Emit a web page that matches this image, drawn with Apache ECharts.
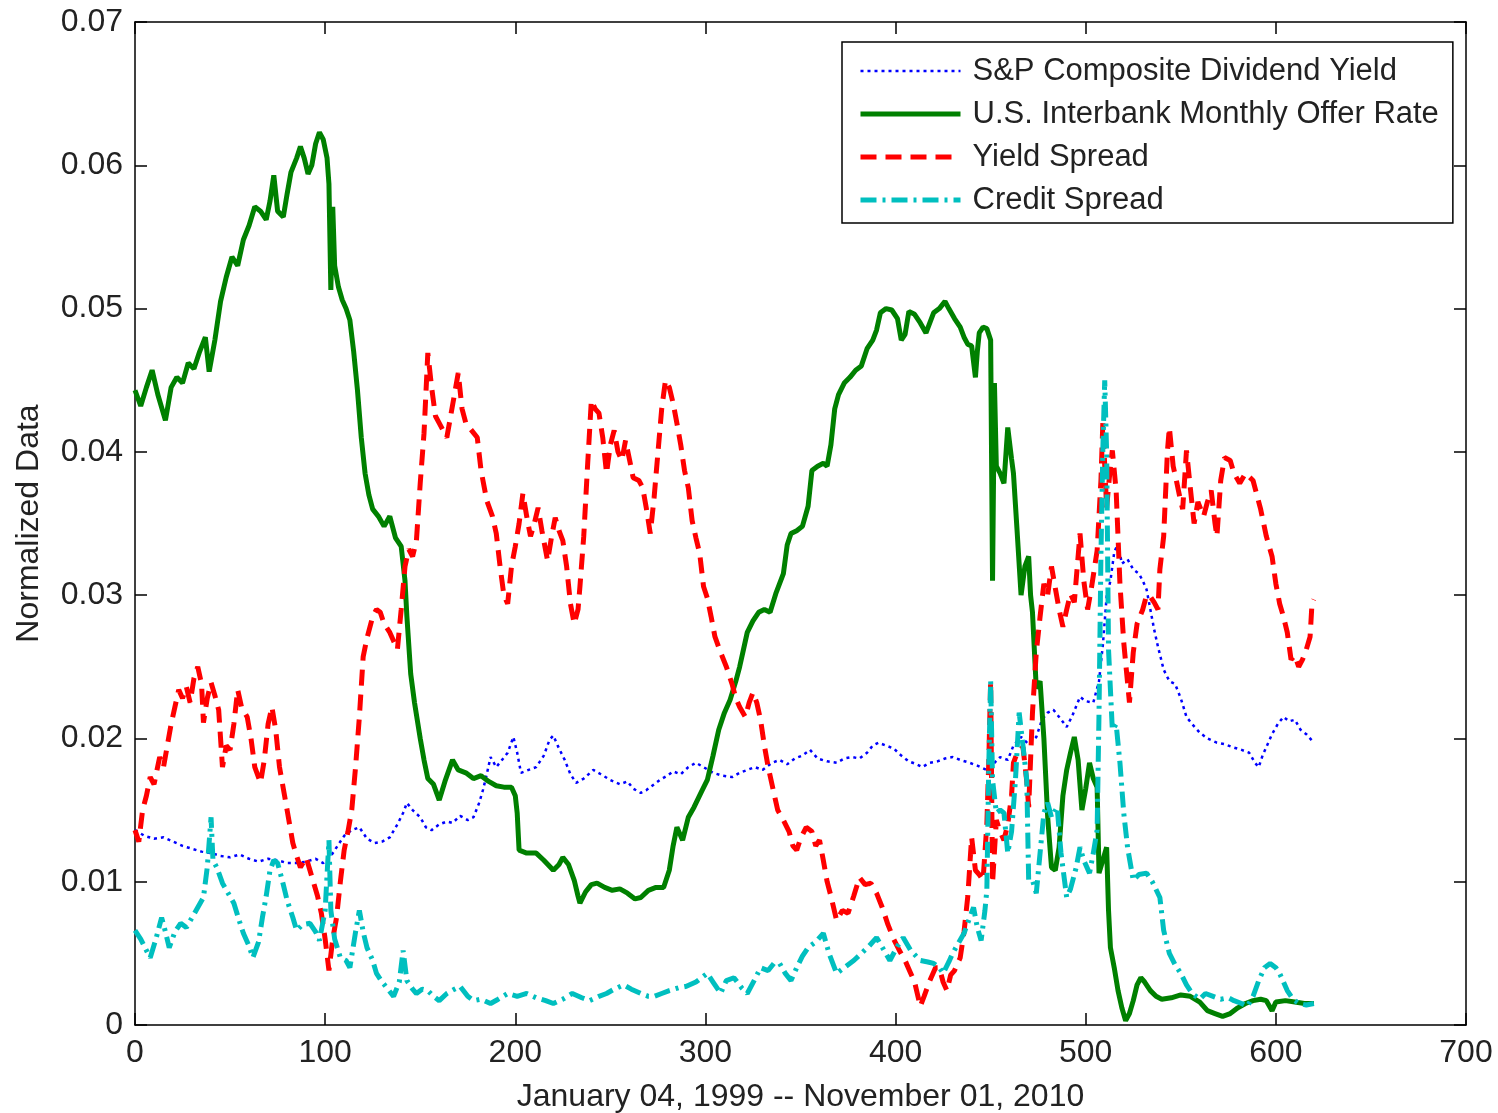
<!DOCTYPE html>
<html>
<head>
<meta charset="utf-8">
<script src="https://cdn.jsdelivr.net/npm/echarts@6/dist/echarts.min.js"></script>
<style>
html,body{margin:0;padding:0;background:#fff;}
#c{width:1498px;height:1113px;}
</style>
</head>
<body>
<div id="c"></div>
<script>
// ---- Data (x = observation index, y = normalized value) ----
const seriesNames = ['S&P Composite Dividend Yield','U.S. Interbank Monthly Offer Rate','Yield Spread','Credit Spread'];
const xTicks = [0,100,200,300,400,500,600,700];
const yTicks = [0,0.01,0.02,0.03,0.04,0.05,0.06,0.07];
const xTitle = 'January 04, 1999 -- November 01, 2010';
const yTitle = 'Normalized Data';

const dividendYield = [[0,0.0136],[5,0.0132],[10,0.0130],[15,0.0131],[20,0.0128],[25,0.0125],[30,0.0123],[35,0.0121],[40,0.0120],[45,0.0118],[50,0.0117],[55,0.0119],[60,0.0116],[65,0.0114],[70,0.0116],[75,0.0115],[80,0.0113],[85,0.0113],[90,0.0114],[95,0.0116],[99,0.0113],[103,0.0118],[106,0.0124],[110,0.0132],[114,0.0136],[118,0.0138],[122,0.0130],[126,0.0127],[130,0.0128],[134,0.0131],[138,0.0140],[141,0.0148],[143,0.0155],[146,0.0150],[150,0.0145],[153,0.0138],[156,0.0136],[160,0.0140],[164,0.0142],[167,0.0141],[171,0.0146],[175,0.0143],[178,0.0145],[181,0.0155],[183,0.0164],[185,0.0175],[187,0.0187],[190,0.0180],[193,0.0185],[196,0.0190],[199,0.0201],[201,0.0190],[203,0.0176],[207,0.0178],[211,0.0180],[215,0.0188],[218,0.0199],[220,0.0202],[223,0.0193],[226,0.0185],[229,0.0175],[232,0.0169],[236,0.0172],[241,0.0178],[245,0.0175],[250,0.0171],[255,0.0168],[259,0.0170],[262,0.0165],[266,0.0162],[269,0.0164],[273,0.0168],[276,0.0171],[280,0.0174],[283,0.0177],[287,0.0175],[291,0.0180],[295,0.0183],[299,0.0180],[304,0.0176],[309,0.0174],[314,0.0173],[318,0.0176],[322,0.0178],[326,0.0180],[330,0.0178],[335,0.0183],[339,0.0185],[343,0.0182],[347,0.0186],[351,0.0188],[355,0.0192],[359,0.0186],[364,0.0184],[369,0.0183],[373,0.0186],[377,0.0187],[381,0.0186],[385,0.0190],[388,0.0195],[391,0.0197],[395,0.0195],[399,0.0193],[403,0.0188],[407,0.0184],[411,0.0182],[414,0.0180],[418,0.0183],[422,0.0184],[426,0.0186],[430,0.0187],[434,0.0185],[439,0.0183],[443,0.0181],[448,0.0178],[452,0.0183],[455,0.0187],[459,0.0185],[462,0.0195],[466,0.0201],[470,0.0196],[474,0.0201],[477,0.0213],[480,0.0218],[483,0.0220],[486,0.0215],[490,0.0208],[493,0.0216],[497,0.0229],[500,0.0226],[504,0.0225],[507,0.0240],[509,0.0265],[511,0.0299],[513,0.0310],[515,0.0330],[517,0.0336],[519,0.0322],[522,0.0325],[525,0.0318],[528,0.0315],[530,0.0310],[532,0.0304],[534,0.0290],[536,0.0276],[538,0.0264],[541,0.0248],[544,0.0240],[547,0.0238],[550,0.0228],[553,0.0215],[556,0.0210],[560,0.0204],[564,0.0200],[569,0.0197],[573,0.0196],[577,0.0194],[582,0.0192],[586,0.0190],[589,0.0183],[591,0.0180],[593,0.0188],[595,0.0194],[598,0.0203],[601,0.0210],[604,0.0215],[607,0.0212],[610,0.0213],[613,0.0206],[616,0.0203],[620,0.0197]];

const interbankRate = [[0,0.0443],[3,0.0432],[6,0.0445],[9,0.0457],[12,0.0440],[16,0.0422],[19,0.0445],[22,0.0452],[25,0.0448],[28,0.0462],[31,0.0458],[34,0.0470],[37,0.0480],[39,0.0456],[42,0.0478],[45,0.0505],[48,0.0522],[51,0.0536],[54,0.0530],[57,0.0548],[60,0.0558],[63,0.0571],[66,0.0568],[69,0.0562],[71,0.0575],[73,0.0593],[75,0.0568],[78,0.0564],[80,0.0580],[82,0.0595],[85,0.0605],[87,0.0613],[89,0.0605],[91,0.0594],[93,0.0600],[95,0.0615],[97,0.0623],[99,0.0618],[101,0.0605],[102,0.0587],[103,0.0513],[104,0.0571],[105,0.0530],[107,0.0515],[109,0.0506],[111,0.0500],[113,0.0492],[115,0.0470],[117,0.0443],[119,0.0410],[121,0.0385],[123,0.0370],[125,0.0360],[128,0.0355],[131,0.0348],[134,0.0355],[137,0.0340],[140,0.0334],[142,0.0310],[143,0.0285],[145,0.0245],[147,0.0225],[150,0.0200],[152,0.0185],[154,0.0172],[157,0.0168],[160,0.0157],[163,0.0170],[167,0.0185],[170,0.0178],[174,0.0176],[178,0.0172],[182,0.0174],[186,0.0170],[190,0.0167],[194,0.0166],[198,0.0166],[200,0.0160],[201,0.0148],[202,0.0122],[206,0.0120],[211,0.0120],[215,0.0115],[220,0.0108],[223,0.0112],[225,0.0117],[228,0.0112],[231,0.0101],[233,0.0090],[234,0.0085],[237,0.0093],[240,0.0098],[243,0.0099],[247,0.0096],[251,0.0094],[255,0.0095],[259,0.0092],[263,0.0088],[266,0.0089],[270,0.0094],[274,0.0096],[278,0.0096],[281,0.0108],[283,0.0125],[285,0.0138],[288,0.0129],[291,0.0145],[294,0.0152],[298,0.0163],[301,0.0171],[304,0.0188],[307,0.0206],[310,0.0218],[313,0.0227],[316,0.0240],[318,0.0250],[320,0.0262],[322,0.0274],[325,0.0282],[328,0.0288],[331,0.0290],[334,0.0288],[337,0.0301],[341,0.0315],[343,0.0335],[345,0.0343],[348,0.0345],[351,0.0348],[354,0.0362],[356,0.0387],[359,0.0390],[362,0.0392],[364,0.0390],[366,0.0405],[368,0.0430],[370,0.0440],[373,0.0448],[376,0.0452],[379,0.0457],[382,0.0460],[385,0.0472],[388,0.0478],[390,0.0485],[392,0.0497],[395,0.0500],[398,0.0499],[401,0.0493],[403,0.0478],[405,0.0482],[407,0.0498],[410,0.0496],[413,0.0490],[416,0.0483],[418,0.0490],[420,0.0497],[423,0.0500],[426,0.0505],[428,0.0500],[431,0.0493],[434,0.0487],[436,0.0480],[438,0.0475],[440,0.0474],[442,0.0452],[443,0.0470],[444,0.0483],[446,0.0487],[448,0.0486],[450,0.0478],[451,0.0310],[452,0.0448],[453,0.0390],[455,0.0385],[457,0.0378],[459,0.0417],[461,0.0395],[462,0.0385],[464,0.0343],[466,0.0300],[468,0.0320],[470,0.0327],[471,0.0300],[472,0.0288],[474,0.0235],[476,0.0240],[478,0.0200],[480,0.0145],[482,0.0110],[484,0.0108],[486,0.0124],[488,0.0160],[490,0.0178],[492,0.0190],[494,0.0201],[496,0.0185],[498,0.0150],[500,0.0165],[502,0.0183],[504,0.0172],[506,0.0166],[507,0.0106],[509,0.0115],[511,0.0124],[512,0.0080],[513,0.0054],[515,0.0040],[517,0.0024],[519,0.0012],[521,0.0003],[523,0.0008],[525,0.0017],[527,0.0028],[529,0.0033],[531,0.0030],[534,0.0024],[537,0.0020],[540,0.0018],[545,0.0019],[550,0.0021],[555,0.0020],[560,0.0016],[564,0.0010],[568,0.0008],[572,0.0006],[576,0.0008],[580,0.0012],[584,0.0015],[588,0.0017],[592,0.0018],[595,0.0017],[598,0.0010],[600,0.0016],[605,0.0017],[610,0.0016],[615,0.0015],[620,0.0015]];

const yieldSpread = [[0,0.0136],[2,0.0128],[4,0.0150],[6,0.0160],[8,0.0173],[10,0.0168],[13,0.0187],[15,0.0180],[17,0.0195],[19,0.0210],[21,0.0222],[23,0.0234],[25,0.0228],[27,0.0236],[29,0.0225],[31,0.0242],[33,0.0250],[35,0.0238],[36,0.0211],[38,0.0228],[40,0.0239],[42,0.0230],[44,0.0220],[46,0.0180],[48,0.0195],[50,0.0192],[52,0.0210],[54,0.0234],[56,0.0222],[59,0.0215],[61,0.0200],[63,0.0180],[66,0.0169],[68,0.0185],[70,0.0210],[72,0.0222],[74,0.0206],[76,0.0180],[78,0.0165],[80,0.0150],[83,0.0127],[85,0.0118],[87,0.0110],[90,0.0117],[92,0.0108],[94,0.0099],[96,0.0090],[98,0.0078],[100,0.0060],[102,0.0038],[104,0.0060],[106,0.0075],[108,0.0100],[110,0.0122],[112,0.0135],[114,0.0150],[116,0.0180],[118,0.0215],[120,0.0257],[122,0.0270],[125,0.0285],[127,0.0290],[129,0.0288],[131,0.0280],[134,0.0274],[136,0.0268],[138,0.0262],[140,0.0290],[142,0.0320],[144,0.0332],[146,0.0327],[148,0.0338],[150,0.0378],[152,0.0413],[154,0.0469],[156,0.0445],[158,0.0425],[160,0.0420],[162,0.0415],[164,0.0410],[166,0.0425],[168,0.0440],[170,0.0455],[172,0.0430],[174,0.0420],[177,0.0415],[180,0.0410],[182,0.0387],[185,0.0366],[188,0.0355],[190,0.0343],[192,0.0320],[194,0.0300],[196,0.0294],[198,0.0320],[200,0.0334],[202,0.0350],[204,0.0371],[206,0.0355],[208,0.0341],[210,0.0350],[212,0.0361],[214,0.0345],[217,0.0324],[219,0.0340],[221,0.0354],[223,0.0345],[225,0.0338],[227,0.0320],[229,0.0294],[231,0.0280],[233,0.0290],[234,0.0306],[236,0.0341],[238,0.0390],[240,0.0436],[242,0.0430],[244,0.0427],[246,0.0410],[248,0.0385],[250,0.0405],[252,0.0415],[254,0.0400],[256,0.0394],[258,0.0408],[260,0.0395],[262,0.0382],[265,0.0380],[267,0.0375],[269,0.0360],[271,0.0343],[273,0.0368],[275,0.0399],[277,0.0430],[279,0.0450],[281,0.0445],[283,0.0434],[285,0.0420],[287,0.0405],[289,0.0387],[291,0.0375],[293,0.0352],[295,0.0340],[297,0.0329],[299,0.0306],[301,0.0298],[303,0.0285],[305,0.0271],[308,0.0260],[311,0.0250],[314,0.0238],[316,0.0228],[318,0.0222],[321,0.0215],[323,0.0225],[325,0.0232],[327,0.0225],[329,0.0213],[331,0.0195],[333,0.0180],[336,0.0162],[338,0.0150],[341,0.0143],[344,0.0135],[346,0.0125],[348,0.0122],[350,0.0130],[353,0.0138],[356,0.0135],[358,0.0125],[360,0.0129],[362,0.0115],[364,0.0100],[366,0.0090],[369,0.0073],[372,0.0080],[375,0.0078],[378,0.0090],[381,0.0103],[384,0.0098],[387,0.0099],[390,0.0092],[393,0.0082],[396,0.0070],[399,0.0060],[402,0.0052],[405,0.0045],[408,0.0036],[410,0.0030],[413,0.0013],[415,0.0020],[418,0.0031],[421,0.0040],[423,0.0040],[425,0.0030],[427,0.0024],[429,0.0035],[431,0.0038],[434,0.0047],[436,0.0065],[438,0.0090],[440,0.0131],[442,0.0108],[444,0.0105],[446,0.0101],[448,0.0140],[449,0.0183],[450,0.0240],[451,0.0099],[453,0.0143],[455,0.0135],[457,0.0129],[459,0.0140],[461,0.0160],[462,0.0183],[464,0.0190],[467,0.0194],[469,0.0170],[470,0.0152],[472,0.0218],[474,0.0260],[476,0.0285],[478,0.0308],[480,0.0300],[482,0.0320],[484,0.0305],[486,0.0290],[488,0.0278],[490,0.0290],[492,0.0301],[494,0.0295],[497,0.0343],[499,0.0310],[501,0.0290],[503,0.0305],[506,0.0331],[508,0.0380],[509,0.0420],[511,0.0361],[513,0.0390],[514,0.0401],[516,0.0373],[518,0.0308],[520,0.0267],[522,0.0239],[523,0.0225],[525,0.0260],[527,0.0280],[530,0.0290],[532,0.0300],[534,0.0299],[536,0.0295],[538,0.0290],[539,0.0318],[541,0.0341],[543,0.0401],[544,0.0417],[546,0.0390],[548,0.0378],[550,0.0365],[551,0.0360],[553,0.0401],[555,0.0375],[557,0.0350],[559,0.0365],[562,0.0355],[564,0.0365],[566,0.0373],[568,0.0350],[569,0.0341],[571,0.0380],[573,0.0396],[576,0.0394],[578,0.0385],[581,0.0378],[584,0.0385],[588,0.0380],[590,0.0370],[592,0.0360],[595,0.0341],[598,0.0327],[600,0.0308],[602,0.0294],[604,0.0285],[606,0.0274],[608,0.0255],[610,0.0258],[612,0.0250],[614,0.0255],[616,0.0262],[618,0.0271],[619,0.0294],[620,0.0297]];

const creditSpread = [[0,0.0066],[3,0.0060],[6,0.0052],[8,0.0047],[11,0.0060],[14,0.0075],[16,0.0065],[18,0.0054],[21,0.0065],[24,0.0071],[27,0.0068],[30,0.0075],[33,0.0082],[36,0.0089],[38,0.0110],[40,0.0145],[41,0.0115],[43,0.0110],[46,0.0099],[49,0.0092],[52,0.0085],[55,0.0072],[57,0.0064],[60,0.0055],[62,0.0047],[65,0.0058],[67,0.0075],[69,0.0090],[71,0.0108],[73,0.0115],[75,0.0113],[78,0.0098],[80,0.0087],[83,0.0075],[85,0.0066],[88,0.0070],[92,0.0071],[95,0.0065],[97,0.0059],[100,0.0080],[102,0.0129],[103,0.0080],[105,0.0060],[108,0.0047],[111,0.0045],[113,0.0040],[116,0.0065],[118,0.0080],[120,0.0065],[122,0.0054],[125,0.0045],[127,0.0036],[130,0.0030],[133,0.0025],[136,0.0020],[139,0.0030],[141,0.0052],[143,0.0031],[146,0.0025],[148,0.0022],[151,0.0025],[154,0.0024],[157,0.0020],[160,0.0017],[164,0.0022],[168,0.0025],[171,0.0027],[175,0.0020],[178,0.0017],[182,0.0018],[187,0.0015],[191,0.0018],[196,0.0022],[201,0.0020],[206,0.0022],[211,0.0019],[216,0.0017],[220,0.0015],[225,0.0018],[230,0.0022],[235,0.0019],[239,0.0017],[244,0.0020],[248,0.0022],[252,0.0025],[257,0.0028],[261,0.0025],[266,0.0022],[270,0.0020],[273,0.0020],[277,0.0022],[281,0.0024],[286,0.0026],[290,0.0027],[295,0.0030],[298,0.0033],[301,0.0036],[304,0.0030],[308,0.0022],[311,0.0031],[315,0.0033],[319,0.0026],[322,0.0022],[326,0.0032],[329,0.0040],[333,0.0038],[336,0.0043],[339,0.0043],[342,0.0036],[345,0.0031],[348,0.0040],[351,0.0048],[354,0.0054],[358,0.0058],[362,0.0064],[365,0.0050],[369,0.0036],[373,0.0040],[378,0.0045],[382,0.0050],[386,0.0055],[390,0.0061],[394,0.0052],[397,0.0045],[401,0.0055],[404,0.0061],[408,0.0052],[413,0.0045],[417,0.0044],[420,0.0043],[423,0.0040],[425,0.0036],[428,0.0044],[430,0.0050],[433,0.0057],[436,0.0064],[439,0.0075],[441,0.0082],[443,0.0068],[445,0.0059],[447,0.0080],[448,0.0094],[449,0.0180],[450,0.0240],[451,0.0171],[453,0.0148],[455,0.0150],[457,0.0148],[459,0.0120],[461,0.0135],[463,0.0170],[465,0.0218],[467,0.0195],[469,0.0171],[470,0.0101],[472,0.0101],[474,0.0092],[476,0.0120],[478,0.0148],[480,0.0155],[482,0.0145],[485,0.0152],[487,0.0120],[490,0.0089],[492,0.0095],[495,0.0110],[497,0.0124],[499,0.0115],[502,0.0106],[504,0.0120],[506,0.0136],[507,0.0218],[508,0.0327],[509,0.0401],[510,0.0450],[511,0.0400],[512,0.0262],[514,0.0206],[516,0.0210],[518,0.0183],[520,0.0148],[522,0.0124],[525,0.0101],[528,0.0105],[532,0.0106],[535,0.0100],[539,0.0089],[541,0.0066],[544,0.0050],[547,0.0042],[550,0.0036],[553,0.0028],[556,0.0022],[560,0.0018],[563,0.0022],[567,0.0020],[571,0.0018],[575,0.0019],[578,0.0017],[582,0.0015],[585,0.0013],[588,0.0020],[591,0.0031],[594,0.0040],[597,0.0043],[600,0.0040],[602,0.0036],[604,0.0030],[606,0.0024],[609,0.0018],[612,0.0015],[616,0.0014],[620,0.0015]];

// ---- Chart ----
const FONT = '"Liberation Sans", Arial, Helvetica, sans-serif';
const TXT = '#222';
const COLORS = ['#0000FF', '#008000', '#FF0000', '#00BFBF'];
const WIDTHS = [2.5, 5, 5, 5];
const DASHES = [[3, 4], 'solid', [16, 9], [16, 6, 3, 6]];
const chart = echarts.init(document.getElementById('c'), null, {renderer: 'canvas'});

function axisBase(extra) {
  return Object.assign({
    type: 'value',
    axisLine: {show: true, onZero: false, lineStyle: {color: '#000', width: 1.5}},
    axisTick: {show: true, inside: true, length: 12, lineStyle: {color: '#000', width: 1.5}},
    splitLine: {show: false}
  }, extra);
}

const seriesData = [dividendYield, interbankRate, yieldSpread, creditSpread];

const option = {
  animation: false,
  backgroundColor: '#fff',
  grid: {left: 135, right: 32, top: 22, bottom: 88, containLabel: false, outerBoundsMode: 'none'},
  xAxis: [
    axisBase({min: xTicks[0], max: xTicks[xTicks.length - 1], interval: 100, position: 'bottom',
      axisLabel: {fontSize: 32, color: TXT, fontFamily: FONT, margin: 12},
      name: xTitle, nameLocation: 'middle', nameGap: 56,
      nameTextStyle: {fontSize: 32, color: TXT, fontFamily: FONT}}),
    axisBase({min: xTicks[0], max: xTicks[xTicks.length - 1], interval: 100, position: 'top',
      axisLabel: {show: false}})
  ],
  yAxis: [
    axisBase({min: yTicks[0], max: yTicks[yTicks.length - 1], interval: 0.01, position: 'left',
      axisLabel: {fontSize: 32, color: TXT, fontFamily: FONT, margin: 12,
        formatter: v => (Math.abs(v) < 1e-9 ? '0' : v.toFixed(2))},
      name: yTitle, nameLocation: 'middle', nameGap: 90,
      nameTextStyle: {fontSize: 32, color: TXT, fontFamily: FONT}}),
    axisBase({min: yTicks[0], max: yTicks[yTicks.length - 1], interval: 0.01, position: 'right',
      axisLabel: {show: false}})
  ],
  legend: {
    show: true,
    orient: 'vertical',
    left: 842, top: 42,
    padding: [12, 14, 6, 16],
    itemGap: 9,
    itemWidth: 100,
    itemHeight: 20,
    backgroundColor: '#fff',
    borderColor: '#000',
    borderWidth: 1.5,
    itemStyle: {color: 'rgba(0,0,0,0)', borderColor: 'rgba(0,0,0,0)', borderWidth: 0},
    textStyle: {fontSize: 31, color: TXT, fontFamily: FONT, lineHeight: 34, padding: [0, 0, 0, 7]},
    data: seriesNames.map((n, i) => ({
      name: n,
      lineStyle: {color: COLORS[i], width: WIDTHS[i], type: DASHES[i]},
      itemStyle: {color: 'rgba(0,0,0,0)', borderColor: 'rgba(0,0,0,0)', borderWidth: 0}
    }))
  },
  series: seriesNames.map((n, i) => ({
    name: n, type: 'line', data: seriesData[i], symbol: 'none', showSymbol: false,
    lineStyle: {color: COLORS[i], width: WIDTHS[i], type: DASHES[i]},
    itemStyle: {color: COLORS[i]}
  }))
};
chart.setOption(option);
</script>
</body>
</html>
